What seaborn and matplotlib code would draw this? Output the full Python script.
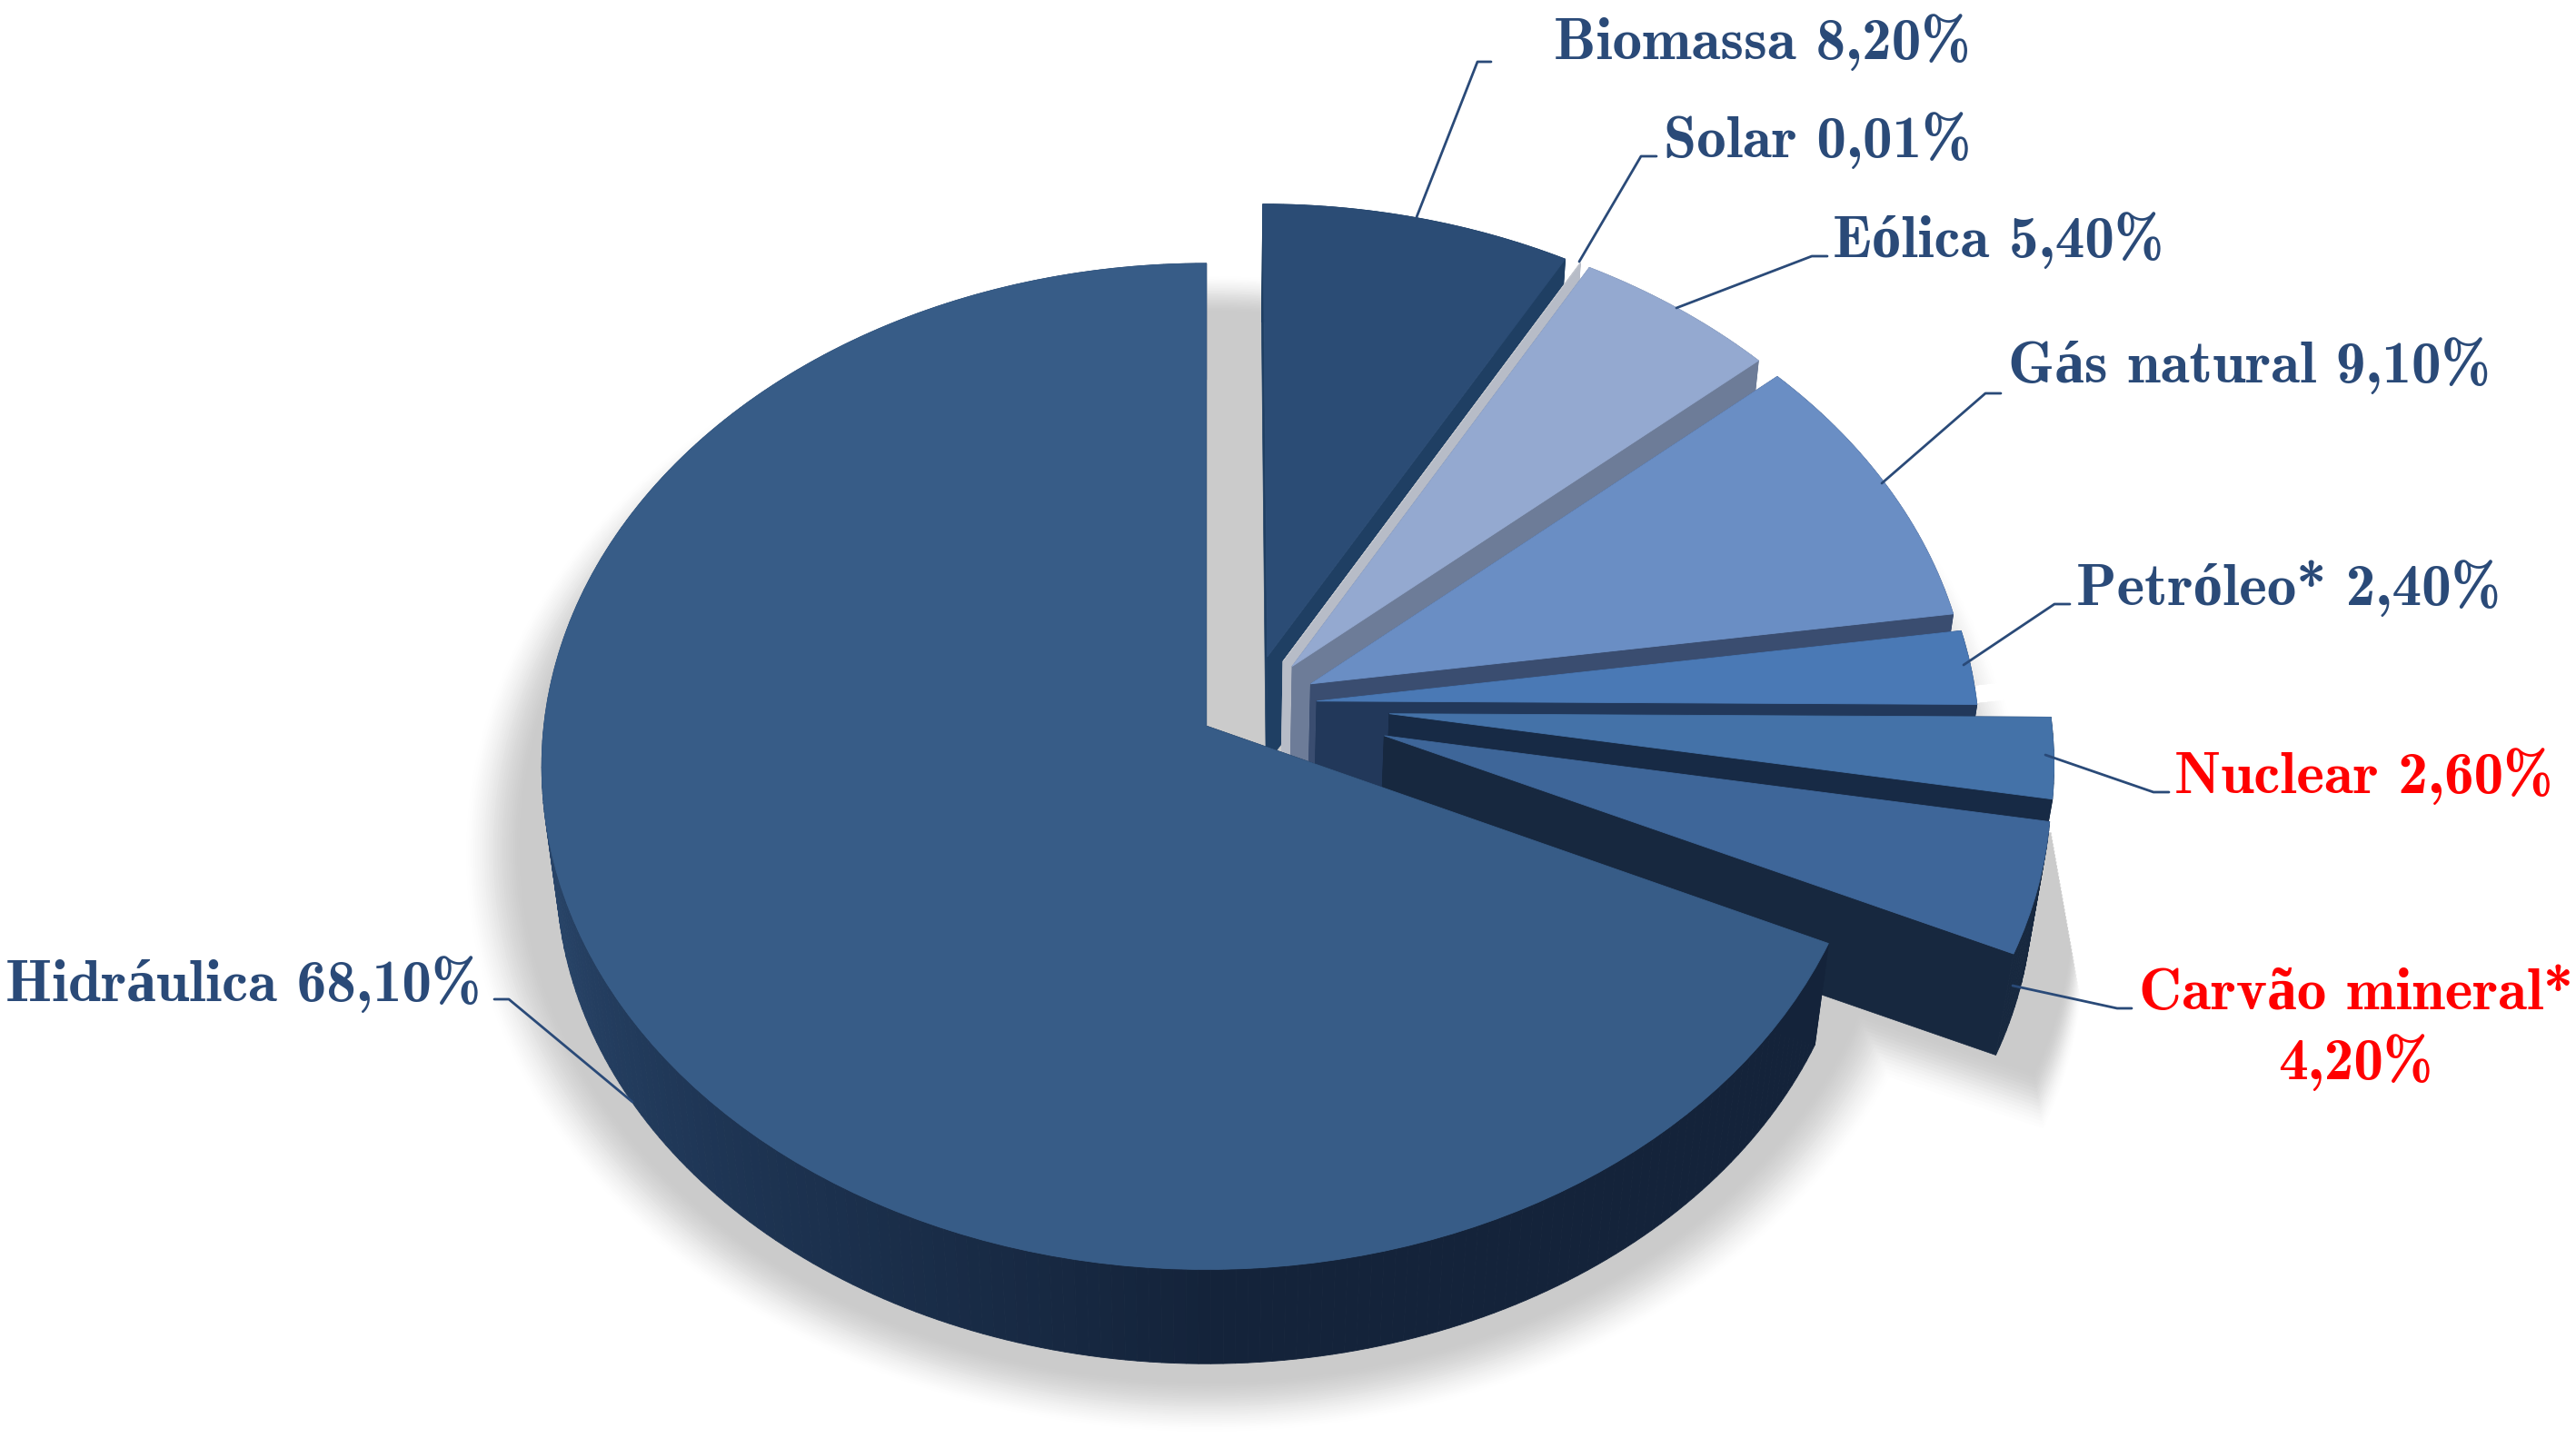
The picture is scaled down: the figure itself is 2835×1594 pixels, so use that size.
import numpy as np
import matplotlib
matplotlib.use("Agg")
import matplotlib.pyplot as plt
from matplotlib.transforms import Transform
import seaborn as sns

sns.set_theme(style="white")

# Matriz eletrica: values in %, clockwise from the top
fontes = ["Biomassa", "Solar", "Eólica", "Gás natural", "Petróleo*", "Nuclear", "Carvão mineral*", "Hidráulica"]
valores = [8.20, 0.01, 5.40, 9.10, 2.40, 2.60, 4.20, 68.10]
rotulos = ["Biomassa 8,20%", "Solar 0,01%", "Eólica 5,40%", "Gás natural 9,10%", "Petróleo* 2,40%",
           "Nuclear 2,60%", "Carvão mineral*", "Hidráulica 68,10%"]
explode = [0.10, 0.10, 0.10, 0.10, 0.10, 0.21, 0.21, 0.08]

cores_topo = ["#2b4c75", "#c0c4cc", "#94a9d0", "#6a8ec4", "#4a79b5", "#4472a8", "#3e6699", "#375c87"]
cores_lado = ["#1f3f63", "#b7bcc7", "#6d7c98", "#3a4d70", "#22385a", "#172a45", "#17283f", "#15243a"]
azul = "#2a4a78"
vermelho = "#ff0000"

CX, CY = 1328, 798
A, B, K = 729, 550, 0.0804
CENTRO = (0.067, 0.041)


class Persp(Transform):
    # pie plane -> picture pixels, a plain perspective
    input_dims = output_dims = 2

    def __init__(self, sx=1.0, sy=1.0, dy=0.0):
        super().__init__()
        self.sx, self.sy, self.dy = sx, sy, dy

    def transform_non_affine(self, xy):
        xy = np.asarray(xy)
        w = 1 + K * xy[:, 1]
        return np.column_stack([CX + self.sx * A * xy[:, 0] / w,
                                CY - self.sy * B * xy[:, 1] / w + self.dy])


def arco(w, r=None, n=None):
    r = w.r if r is None else r
    n = n or max(2, int(w.theta2 - w.theta1) + 2)
    t = np.radians(np.linspace(w.theta1, w.theta2, n))
    return np.column_stack([w.center[0] + r * np.cos(t), w.center[1] + r * np.sin(t)])


fig = plt.figure(figsize=(28.35, 15.94), dpi=100)
ax = fig.add_axes([0, 0, 1, 1])
wedges, _ = ax.pie(valores, explode=explode, colors=cores_topo, startangle=90, counterclock=False,
                   radius=1, center=CENTRO, wedgeprops={"linewidth": 0.6})
for w, c in zip(wedges, cores_topo):
    w.set_edgecolor(c)

ax.set_aspect("auto")
ax.set_xlim(0, 2835)
ax.set_ylim(1594, 0)
ax.axis("off")

topo = Persp()
baixo = Persp(0.978, 0.978, 117)

# soft shadow: darker layers always on top, so overlaps never lighten
tons = sns.blend_palette(["#ffffff", "#cbcbcb"], 101)


def camada(pts, tr, s):
    p = tr.transform_non_affine(pts)
    ax.fill(p[:, 0], p[:, 1], color=tons[int(round(s * 100))], lw=0, zorder=1 + s)


# the coal slice throws a long one downwards
carvao = wedges[6]
pts_carvao = np.vstack([carvao.center, arco(carvao)])
for d in np.arange(200, 10, -4):
    s = np.clip((200 - d) / 70, 0, 1)
    camada(pts_carvao, Persp(1 + d * 0.00019, 1.0, d), s * s * (3 - 2 * s))

sombra = Persp(1.0, 1.03, 85)
circulo = np.radians(np.arange(0, 361, 2))
for t in np.linspace(1, -1, 30):
    s = 0.5 - 0.75 * t + 0.25 * t ** 3
    r = 1.075 + t * 0.048
    camada(np.column_stack([r * np.cos(circulo), r * np.sin(circulo)]), sombra, s)
    for w in wedges[:5]:
        camada(np.vstack([w.center, arco(w, w.r * (1.03 + t * 0.048))]), sombra, s)

# walls and faces, back to front
rampa = sns.blend_palette(["#2c4a70", "#1e3554", "#14233a"], 91)
for i, w in enumerate(wedges):
    z = 10 + 2 * i
    borda = arco(w)
    apice = np.array([w.center])
    for lado in (borda[[0]], borda[[-1]]):
        pts = np.vstack([apice, lado])
        a, b = topo.transform_non_affine(pts), baixo.transform_non_affine(pts)
        q = np.vstack([a, b[::-1]])
        ax.fill(q[:, 0], q[:, 1], color=cores_lado[i], ec=cores_lado[i], lw=0.5, zorder=z)
    a, b = topo.transform_non_affine(borda), baixo.transform_non_affine(borda)
    ang = np.linspace(w.theta1, w.theta2, len(borda))
    for j in range(len(borda) - 1):
        cor = cores_lado[i]
        if i == 7:
            # rim gets darker towards the front
            cor = rampa[int(np.clip(abs(ang[j] % 360 - 180), 0, 90))] if ang[j] % 360 > 180 else rampa[0]
        q = np.array([a[j], a[j + 1], b[j + 1], b[j]])
        ax.fill(q[:, 0], q[:, 1], color=cor, ec=cor, lw=0.6, zorder=z)
    w.set_transform(Persp() + ax.transData)
    w.set_clip_on(False)
    w.set_zorder(z + 1)

# labels
fonte = ["cmb10", "Liberation Serif"]
texto = {"fontsize": 47, "family": fonte, "weight": "bold", "va": "baseline", "ha": "left", "zorder": 40}
pos_texto = [(1710, 65), (1831, 173), (2017, 283), (2210, 421), (2285, 666), (2393, 873), (2354, 1111), (6, 1102)]
guias = [[(1559, 239), (1626, 68), (1641, 68)], [(1738, 288), (1806, 172), (1823, 172)],
         [(1845, 339), (1994, 282), (2011, 282)], [(2071, 532), (2185, 433), (2202, 433)],
         [(2161, 732), (2261, 665), (2278, 665)], [(2251, 831), (2370, 872), (2387, 872)],
         [(2215, 1085), (2330, 1110), (2346, 1110)], [(696, 1213), (560, 1100), (544, 1100)]]
for i, rot in enumerate(rotulos):
    cor = vermelho if fontes[i] in ("Nuclear", "Carvão mineral*") else azul
    ax.text(*pos_texto[i], rot, color=cor, **texto)
    g = np.array(guias[i])
    ax.plot(g[:, 0], g[:, 1], color=azul, lw=2, zorder=39)
ax.text(2592, 1188, "4,20%", color=vermelho, **{**texto, "ha": "center"})

fig.savefig("out.png", dpi=100, facecolor="white")
